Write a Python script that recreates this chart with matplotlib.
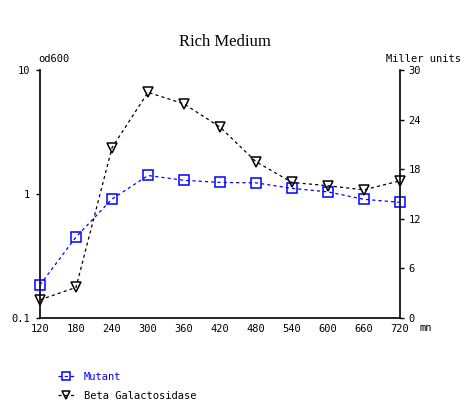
import matplotlib
matplotlib.use("Agg")
import matplotlib.pyplot as plt
from matplotlib.lines import Line2D

minutes = [120, 180, 240, 300, 360, 420, 480, 540, 600, 660, 720]
mutant_od600 = [0.185, 0.45, 0.91, 1.41, 1.29, 1.24, 1.23, 1.11, 1.04, 0.906, 0.857]
beta_gal_miller = [2.2, 3.7, 20.6, 27.3, 25.9, 23.1, 18.9, 16.4, 16.0, 15.5, 16.6]
x_ticks = [120, 180, 240, 300, 360, 420, 480, 540, 600, 660, 720]
left_ticks = [0.1, 1, 10]
left_labels = ["0.1", "1", "10"]
right_ticks = [0, 6, 12, 18, 24, 30]

mono = "DejaVu Sans Mono"
fs = 7.5

W, H = 472, 405
fig = plt.figure(figsize=(W / 100, H / 100), dpi=100)
ax = fig.add_axes([40 / W, (H - 318) / H, 360 / W, 248 / H])
ax2 = ax.twinx()

ax.set_yscale("log")
ax.set_ylim(0.1, 10)
ax.set_xlim(120, 720)
ax2.set_ylim(0, 30)

ms = 7
ax.plot(minutes, mutant_od600, color="#0000ff", lw=0.9, dashes=(2.5, 2.5),
        marker="s", ms=ms, mfc="none", mec="#0000ff", mew=1.1, clip_on=False, zorder=3)
ax2.plot(minutes, beta_gal_miller, color="black", lw=0.9, dashes=(2.5, 2.5),
         marker="v", ms=ms, mfc="none", mec="black", mew=1.1, clip_on=False, zorder=3)

for a in (ax, ax2):
    a.spines["top"].set_visible(False)
    for s in a.spines.values():
        s.set_linewidth(1.2)
ax.spines["right"].set_visible(False)
ax2.spines["left"].set_visible(False)
ax2.spines["bottom"].set_visible(False)

ax.set_xticks(x_ticks)
ax.set_xticklabels([str(v) for v in x_ticks], fontfamily=mono, fontsize=fs)
ax.tick_params(axis="x", length=0, pad=4)
ax.set_yticks(left_ticks)
ax.set_yticklabels(left_labels, fontfamily=mono, fontsize=fs)
ax.yaxis.set_minor_locator(matplotlib.ticker.NullLocator())
ax.tick_params(axis="y", length=3, width=1, pad=4)
ax2.set_yticks(right_ticks)
ax2.set_yticklabels([str(v) for v in right_ticks], fontfamily=mono, fontsize=fs)
ax2.tick_params(axis="y", length=3, width=1, pad=3)

fig.text(225 / W, 1 - 42 / H, "Rich Medium", ha="center", va="center",
         fontfamily="Liberation Serif", fontsize=12)
fig.text(38 / W, 1 - 59 / H, "od600", ha="left", va="center", fontfamily=mono, fontsize=fs)
fig.text(386 / W, 1 - 59 / H, "Miller units", ha="left", va="center", fontfamily=mono, fontsize=fs)
fig.text(419 / W, 1 - 328 / H, "mn", ha="left", va="center", fontfamily=mono, fontsize=fs)

handles = [
    Line2D([], [], color="#0000ff", lw=0.9, dashes=(2.5, 2.5), marker="s", ms=6,
           mfc="none", mec="#0000ff", mew=1.1),
    Line2D([], [], color="black", lw=0.9, dashes=(2.5, 2.5), marker="v", ms=6,
           mfc="none", mec="black", mew=1.1),
]
leg = fig.legend(handles, ["Mutant", "Beta Galactosidase"], loc="upper left",
                 bbox_to_anchor=(58 / W, 1 - 372 / H), frameon=False,
                 prop={"family": mono, "size": fs}, handlelength=1.5,
                 handletextpad=1.0, labelspacing=0.85, borderpad=0, borderaxespad=0)
leg.get_texts()[0].set_color("#0000ff")

fig.savefig("out.png", dpi=100)
